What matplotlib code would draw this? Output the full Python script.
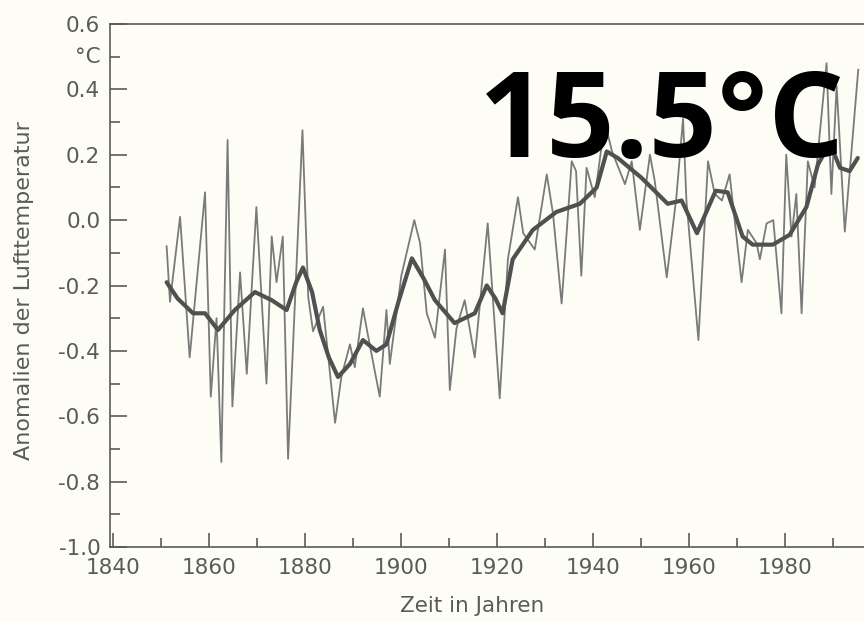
import numpy as np
import matplotlib
matplotlib.use("Agg")
import matplotlib.pyplot as plt
from matplotlib.ticker import MultipleLocator, FixedLocator

# annual anomalies
years = [1851.2, 1851.9, 1854.0, 1856.0, 1859.2, 1860.4, 1861.6, 1862.6, 1863.9, 1864.9,
         1866.5, 1867.9, 1869.9, 1872.0, 1873.1, 1874.1, 1875.4, 1876.5, 1879.5, 1880.7,
         1881.7, 1883.8, 1886.3, 1887.6, 1889.4, 1890.4, 1892.1, 1893.5, 1895.6, 1897.0,
         1897.7, 1900.1, 1902.8, 1904.0, 1905.4, 1907.1, 1909.2, 1910.2, 1911.6, 1913.3,
         1915.4, 1918.1, 1920.6, 1922.3, 1924.4, 1925.5, 1927.9, 1930.4, 1931.7, 1933.5,
         1935.6, 1936.5, 1937.6, 1938.7, 1940.4, 1942.5, 1944.0, 1946.7, 1948.1, 1949.8,
         1951.9, 1952.9, 1955.4, 1957.4, 1958.8, 1959.5, 1962.0, 1964.0, 1965.4, 1966.9,
         1968.5, 1971.0, 1972.3, 1974.1, 1974.8, 1976.2, 1977.6, 1979.3, 1980.3, 1981.4,
         1982.4, 1983.5, 1984.8, 1986.2, 1988.7, 1989.7, 1990.8, 1992.5, 1995.3]
anom = [-0.08, -0.25, 0.01, -0.42, 0.085, -0.54, -0.30, -0.74, 0.245, -0.57,
        -0.16, -0.47, 0.04, -0.50, -0.05, -0.19, -0.05, -0.73, 0.275, -0.235,
        -0.34, -0.265, -0.62, -0.48, -0.38, -0.45, -0.27, -0.38, -0.54, -0.275,
        -0.44, -0.17, 0.0, -0.07, -0.285, -0.36, -0.09, -0.52, -0.33, -0.245,
        -0.42, -0.01, -0.545, -0.12, 0.07, -0.04, -0.09, 0.14, 0.02, -0.255,
        0.18, 0.15, -0.17, 0.16, 0.07, 0.30, 0.21, 0.11, 0.18, -0.03,
        0.20, 0.12, -0.175, 0.07, 0.31, 0.06, -0.367, 0.18, 0.08, 0.06,
        0.14, -0.19, -0.03, -0.07, -0.12, -0.01, 0.0, -0.285, 0.20, -0.05,
        0.08, -0.285, 0.18, 0.10, 0.48, 0.08, 0.41, -0.035, 0.46]

# smoothed curve
sm_years = [1851.2, 1853.5, 1856.7, 1859.2, 1861.9, 1865.4, 1869.6, 1873.1, 1876.2, 1878.2,
            1879.6, 1881.5, 1883.1, 1885.0, 1886.9, 1889.4, 1892.1, 1894.9, 1897.0, 1899.5,
            1902.3, 1904.8, 1907.1, 1911.2, 1915.4, 1917.9, 1919.7, 1921.2, 1923.3, 1927.5,
            1932.4, 1937.3, 1940.8, 1942.9, 1945.2, 1950.1, 1955.6, 1958.5, 1961.7, 1965.6,
            1968.1, 1971.2, 1973.3, 1977.5, 1981.0, 1984.5, 1986.9, 1989.4, 1991.5, 1993.5,
            1995.2]
sm_anom = [-0.19, -0.24, -0.285, -0.285, -0.336, -0.275, -0.22, -0.245, -0.275, -0.19,
           -0.145, -0.22, -0.336, -0.42, -0.48, -0.44, -0.367, -0.40, -0.38, -0.25,
           -0.117, -0.18, -0.245, -0.315, -0.285, -0.20, -0.24, -0.285, -0.12, -0.03,
           0.025, 0.05, 0.10, 0.21, 0.19, 0.13, 0.05, 0.06, -0.04, 0.09,
           0.085, -0.05, -0.075, -0.075, -0.045, 0.04, 0.17, 0.235, 0.16, 0.15,
           0.19]

x_ticks = [1840, 1860, 1880, 1900, 1920, 1940, 1960, 1980]
y_ticks = [-1.0, -0.8, -0.6, -0.4, -0.2, 0.0, 0.2, 0.4, 0.6]

grey = '#5a5a5a'
bg = '#fdfdf5'

fig = plt.figure(figsize=(8.64, 6.22), dpi=100, facecolor=bg)
ax = fig.add_axes([110/864, 75/622, 1 - 110/864, 523/622])
ax.set_facecolor(bg)

ax.plot(years, anom, color='#7a7a7a', lw=1.3)
ax.plot(sm_years, sm_anom, color='#505050', lw=3.0, solid_capstyle='round')

ax.set_xlim(1839.4, 1996.5)
ax.set_ylim(-1.0, 0.6)
ax.xaxis.set_major_locator(FixedLocator(x_ticks))
ax.xaxis.set_minor_locator(MultipleLocator(10))
ax.yaxis.set_major_locator(FixedLocator(y_ticks))
ax.yaxis.set_minor_locator(MultipleLocator(0.1))
ax.set_yticklabels(['%.1f' % v for v in y_ticks])

ax.tick_params(axis='both', which='both', direction='in', colors=grey, width=1.2,
               labelsize=15.5, labelcolor=grey)
ax.tick_params(axis='y', which='major', length=12, pad=7)
ax.tick_params(axis='y', which='minor', length=7)
ax.tick_params(axis='x', which='major', length=10, pad=8)
ax.tick_params(axis='x', which='minor', length=6.5)

for s in ['left', 'bottom', 'top']:
    ax.spines[s].set_color(grey)
    ax.spines[s].set_linewidth(1.2)
ax.spines['right'].set_visible(False)

ax.text(-9/754, 0.5, '°C', transform=ax.get_yaxis_transform(), ha='right', va='center',
        fontsize=15.5, color=grey)

fig.text(472/864, 1 - 606/622, 'Zeit in Jahren', ha='center', va='center', fontsize=15.5, color=grey)
fig.text(24/864, 1 - 291/622, 'Anomalien der Lufttemperatur', rotation=90, ha='center',
         va='center', fontsize=16, color=grey)

fig.text(479/864, 1 - 157/622, '15.5°C', family='Open Sans', fontweight='bold',
         fontsize=86, color='black', ha='left', va='baseline')

fig.savefig('out.png', dpi=100, facecolor=bg)
